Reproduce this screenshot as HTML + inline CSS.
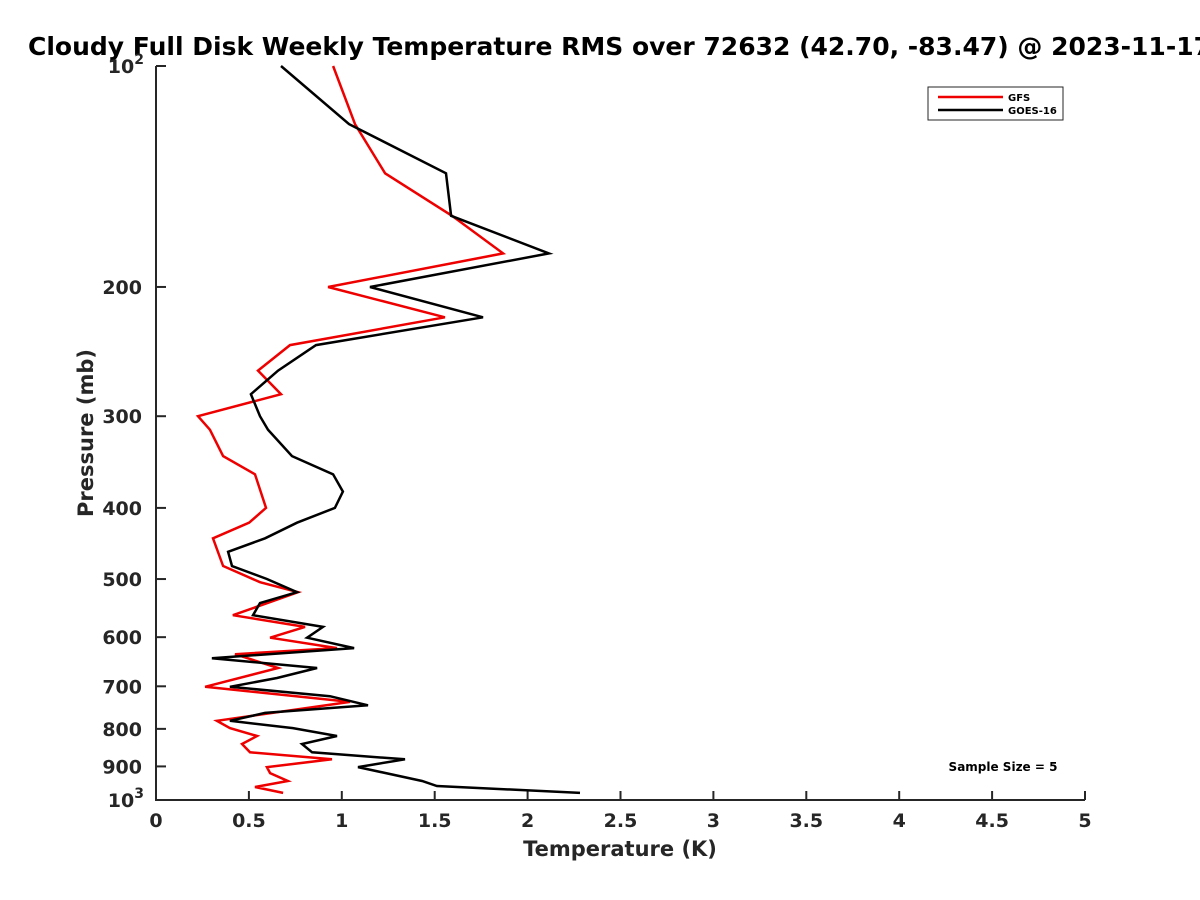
<!DOCTYPE html>
<html><head><meta charset="utf-8"><style>
body{margin:0;background:#fff;}
svg{display:block;font-family:"DejaVu Sans","Liberation Sans",sans-serif;font-weight:bold;}
</style></head><body>
<svg id="chart" width="1200" height="900" viewBox="0 0 1200 900">
<rect width="1200" height="900" fill="#fff"/>
<text x="28" y="55" font-size="25" fill="#000">Cloudy Full Disk Weekly Temperature RMS over 72632 (42.70, -83.47) @ 2023-11-17</text>
<g id="axes"></g>
<g id="series"></g>
<text x="620" y="856" font-size="21" text-anchor="middle" fill="#262626">Temperature (K)</text>
<text transform="translate(93,433) rotate(-90)" font-size="21" text-anchor="middle" fill="#262626">Pressure (mb)</text>
<text x="1003" y="771" font-size="12" text-anchor="middle" fill="#000">Sample Size = 5</text>
<g>
<rect x="928" y="87" width="135" height="33" fill="#fff" stroke="#262626" stroke-width="1"/>
<line x1="938" y1="97" x2="1003" y2="97" stroke="#e00" stroke-width="2.5"/>
<text x="1008" y="101" font-size="10" fill="#000">GFS</text>
<line x1="938" y1="110" x2="1003" y2="110" stroke="#000" stroke-width="2.5"/>
<text x="1008" y="114" font-size="10" fill="#000">GOES-16</text>
</g>
</svg>
<script>
const xTicks = [0,0.5,1,1.5,2,2.5,3,3.5,4,4.5,5];
const xTickLabels = ["0","0.5","1","1.5","2","2.5","3","3.5","4","4.5","5"];
const yTicks = [100,200,300,400,500,600,700,800,900,1000];
const gfsPressure = [100,120,140,160,180,200,220,240,260,280,300,313,340,360,400,419,440,480,505,521,560,581,601,621,633,661,701,735,780,798,818,839,861,880,902,919,942,960,978];
const gfsTemp =     [0.953,1.071,1.233,1.593,1.868,0.926,1.555,0.721,0.549,0.673,0.226,0.29,0.361,0.533,0.592,0.501,0.307,0.361,0.560,0.764,0.414,0.802,0.614,0.974,0.425,0.657,0.264,1.044,0.328,0.398,0.544,0.463,0.506,0.947,0.597,0.614,0.710,0.533,0.684];
const goesPressure = [100,120,140,160,180,200,220,240,260,280,300,313,340,360,380,400,419,440,459,480,500,521,539,560,581,601,621,641,661,682,701,722,743,761,780,798,818,839,861,880,902,942,957,978];
const goesTemp =     [0.673,1.039,1.561,1.588,2.115,1.152,1.760,0.861,0.657,0.511,0.560,0.603,0.732,0.953,1.006,0.963,0.759,0.587,0.388,0.409,0.597,0.759,0.560,0.522,0.899,0.813,1.066,0.301,0.867,0.651,0.398,0.936,1.141,0.587,0.398,0.737,0.974,0.786,0.840,1.340,1.087,1.432,1.512,2.282];

const X0=156,X1=1085,Y0=66,Y1=800;
const xs=v=>X0+(v-0)/(5-0)*(X1-X0);
const ys=p=>Y0+(Math.log10(p)-2)*(Y1-Y0);
const NS="http://www.w3.org/2000/svg";
function mk(tag,attrs,parent){const e=document.createElementNS(NS,tag);for(const k in attrs)e.setAttribute(k,attrs[k]);parent.appendChild(e);return e;}
const axes=document.getElementById('axes');
let a=mk('path',{d:`M${X0},${Y0}V${Y1}H${X1}`,fill:'none',stroke:'#262626','stroke-width':2},axes);


xTicks.forEach((v,i)=>{
  const x=xs(v);
  const t=mk('line',{x1:x,y1:Y1,x2:x,y2:Y1-9,stroke:'#262626','stroke-width':2},axes);
  
  
  const l=mk('text',{x:x,y:Y1+27,'font-size':19,'text-anchor':'middle',fill:'#262626'},axes);
  l.textContent=xTickLabels[i];
  
  
});
yTicks.forEach(p=>{
  const y=ys(p);
  const t=mk('line',{x1:X0,y1:y,x2:X0+10,y2:y,stroke:'#262626','stroke-width':2},axes);
  
  
  const l=mk('text',{x:X0-14,y:y+7,'font-size':19,'text-anchor':'end',fill:'#262626'},axes);
  
  
  if(p===100||p===1000){
    l.textContent='10';
    const s=mk('tspan',{dy:-9,'font-size':14},l);s.textContent=p===100?'2':'3';
    l.setAttribute('x',X0-12);
  } else l.textContent=String(p);
});
const sg=document.getElementById('series');
function line(P,T,color,name){
  const d=P.map((p,i)=>(i?'L':'M')+xs(T[i]).toFixed(1)+','+ys(p).toFixed(1)).join('');
  const e=mk('path',{d:d,fill:'none',stroke:color,'stroke-width':2.5,'stroke-linejoin':'miter'},sg);
  
  
}
line(gfsPressure,gfsTemp,'#e00','gfs-line');
line(goesPressure,goesTemp,'#000','goes16-line');
</script>
</body></html>
